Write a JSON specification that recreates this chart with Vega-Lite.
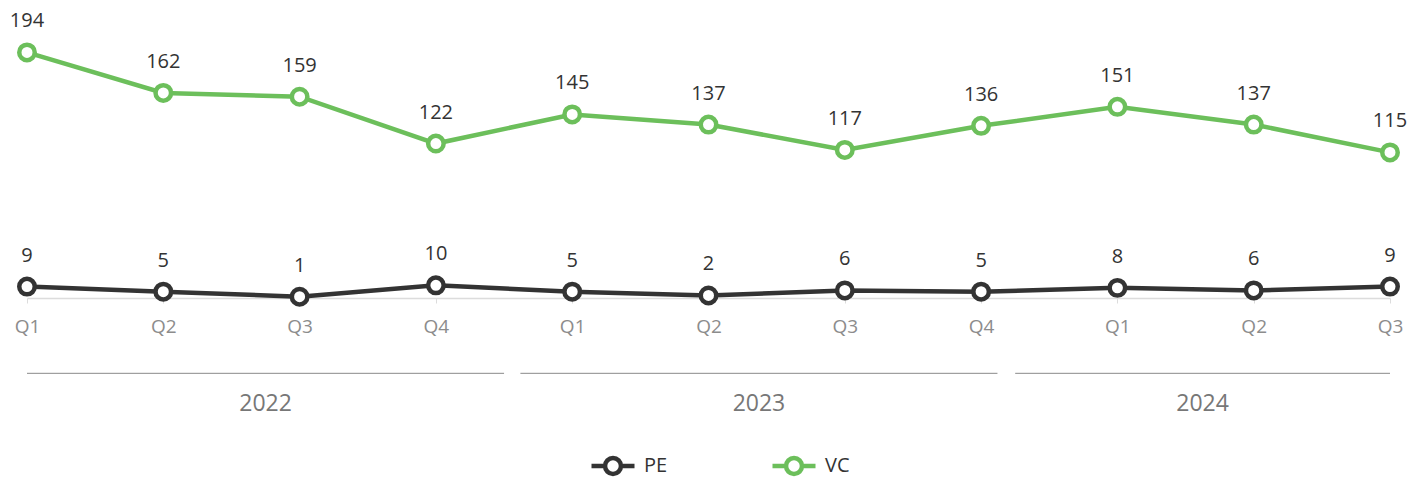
{
  "$schema": "https://vega.github.io/schema/vega-lite/v6.json",
  "autosize": {"type": "none"},
  "padding": {"left": 27, "top": 0, "right": 29, "bottom": 179},
  "width": 1363,
  "height": 298,
  "background": "white",
  "config": {
    "view": {"stroke": null},
    "font": "Open Sans",
    "text": {"font": "Open Sans"}
  },
  "datasets": {
    "q": [
      {"idx": 0, "year": 2022, "quarter": "Q1", "series": "PE", "deals": 9},
      {"idx": 1, "year": 2022, "quarter": "Q2", "series": "PE", "deals": 5},
      {"idx": 2, "year": 2022, "quarter": "Q3", "series": "PE", "deals": 1},
      {"idx": 3, "year": 2022, "quarter": "Q4", "series": "PE", "deals": 10},
      {"idx": 4, "year": 2023, "quarter": "Q1", "series": "PE", "deals": 5},
      {"idx": 5, "year": 2023, "quarter": "Q2", "series": "PE", "deals": 2},
      {"idx": 6, "year": 2023, "quarter": "Q3", "series": "PE", "deals": 6},
      {"idx": 7, "year": 2023, "quarter": "Q4", "series": "PE", "deals": 5},
      {"idx": 8, "year": 2024, "quarter": "Q1", "series": "PE", "deals": 8},
      {"idx": 9, "year": 2024, "quarter": "Q2", "series": "PE", "deals": 6},
      {"idx": 10, "year": 2024, "quarter": "Q3", "series": "PE", "deals": 9},
      {"idx": 0, "year": 2022, "quarter": "Q1", "series": "VC", "deals": 194},
      {"idx": 1, "year": 2022, "quarter": "Q2", "series": "VC", "deals": 162},
      {"idx": 2, "year": 2022, "quarter": "Q3", "series": "VC", "deals": 159},
      {"idx": 3, "year": 2022, "quarter": "Q4", "series": "VC", "deals": 122},
      {"idx": 4, "year": 2023, "quarter": "Q1", "series": "VC", "deals": 145},
      {"idx": 5, "year": 2023, "quarter": "Q2", "series": "VC", "deals": 137},
      {"idx": 6, "year": 2023, "quarter": "Q3", "series": "VC", "deals": 117},
      {"idx": 7, "year": 2023, "quarter": "Q4", "series": "VC", "deals": 136},
      {"idx": 8, "year": 2024, "quarter": "Q1", "series": "VC", "deals": 151},
      {"idx": 9, "year": 2024, "quarter": "Q2", "series": "VC", "deals": 137},
      {"idx": 10, "year": 2024, "quarter": "Q3", "series": "VC", "deals": 115}
    ],
    "years": [
      {"year": "2022", "start": 0, "end": 3.5, "mid": 1.75},
      {"year": "2023", "start": 3.62, "end": 7.12, "mid": 5.37},
      {"year": "2024", "start": 7.25, "end": 10, "mid": 8.625}
    ]
  },
  "layer": [
    {
      "data": {"name": "q"},
      "mark": {"type": "line", "strokeWidth": 4.5},
      "encoding": {
        "x": {
          "field": "idx", "type": "quantitative",
          "scale": {"domain": [0, 10], "nice": false, "zero": false},
          "axis": {
            "values": [0, 1, 2, 3, 4, 5, 6, 7, 8, 9, 10],
            "labelExpr": "['Q1','Q2','Q3','Q4'][datum.value % 4]",
            "grid": false, "title": null,
            "domainColor": "#dcdcdc", "domainWidth": 1.5,
            "tickColor": "#dcdcdc", "tickSize": 5,
            "labelFontSize": 19, "labelColor": "#8c8c8c", "labelPadding": 14,
            "labelFlush": false, "labelFont": "Open Sans"
          }
        },
        "y": {"field": "deals", "type": "quantitative", "axis": null, "scale": {"domain": [0, 235.4], "nice": false, "zero": false}},
        "color": {
          "field": "series", "type": "nominal",
          "scale": {"domain": ["PE", "VC"], "range": ["#333333", "#6cbf5b"]},
          "legend": {
            "title": null, "orient": "none", "direction": "horizontal",
            "legendX": 562, "legendY": 442,
            "symbolType": "M-1,0 L-0.37,0 M0.37,0 L1,0 M0.37,0 A0.37,0.37 0 1,1 -0.37,0 A0.37,0.37 0 1,1 0.37,0",
            "symbolSize": 1849, "symbolStrokeWidth": 4.5, "symbolFillColor": "white",
            "labelFontSize": 20, "labelColor": "#333333", "labelFont": "Open Sans",
            "labelOffset": 7, "columnPadding": 95, "labelLimit": 300
          }
        }
      }
    },
    {
      "data": {"name": "q"},
      "mark": {"type": "point", "shape": "circle", "filled": false, "fill": "white", "fillOpacity": 1, "opacity": 1, "size": 240, "strokeWidth": 4.5},
      "encoding": {
        "x": {"field": "idx", "type": "quantitative"},
        "y": {"field": "deals", "type": "quantitative"},
        "color": {"field": "series", "type": "nominal"}
      }
    },
    {
      "data": {"name": "q"},
      "mark": {"type": "text", "color": "#333333", "fontSize": 20, "dy": -31, "baseline": "middle", "align": "center"},
      "encoding": {
        "x": {"field": "idx", "type": "quantitative"},
        "y": {"field": "deals", "type": "quantitative"},
        "text": {"field": "deals", "type": "quantitative"}
      }
    },
    {
      "data": {"name": "years"},
      "mark": {"type": "rule", "color": "#8a8a8a", "strokeWidth": 1},
      "encoding": {
        "x": {"field": "start", "type": "quantitative"},
        "x2": {"field": "end"},
        "y": {"datum": -59.5}
      }
    },
    {
      "data": {"name": "years"},
      "mark": {"type": "text", "color": "#777777", "fontSize": 23, "baseline": "middle", "align": "center"},
      "encoding": {
        "x": {"field": "mid", "type": "quantitative"},
        "y": {"datum": -83.5},
        "text": {"field": "year"}
      }
    }
  ]
}
